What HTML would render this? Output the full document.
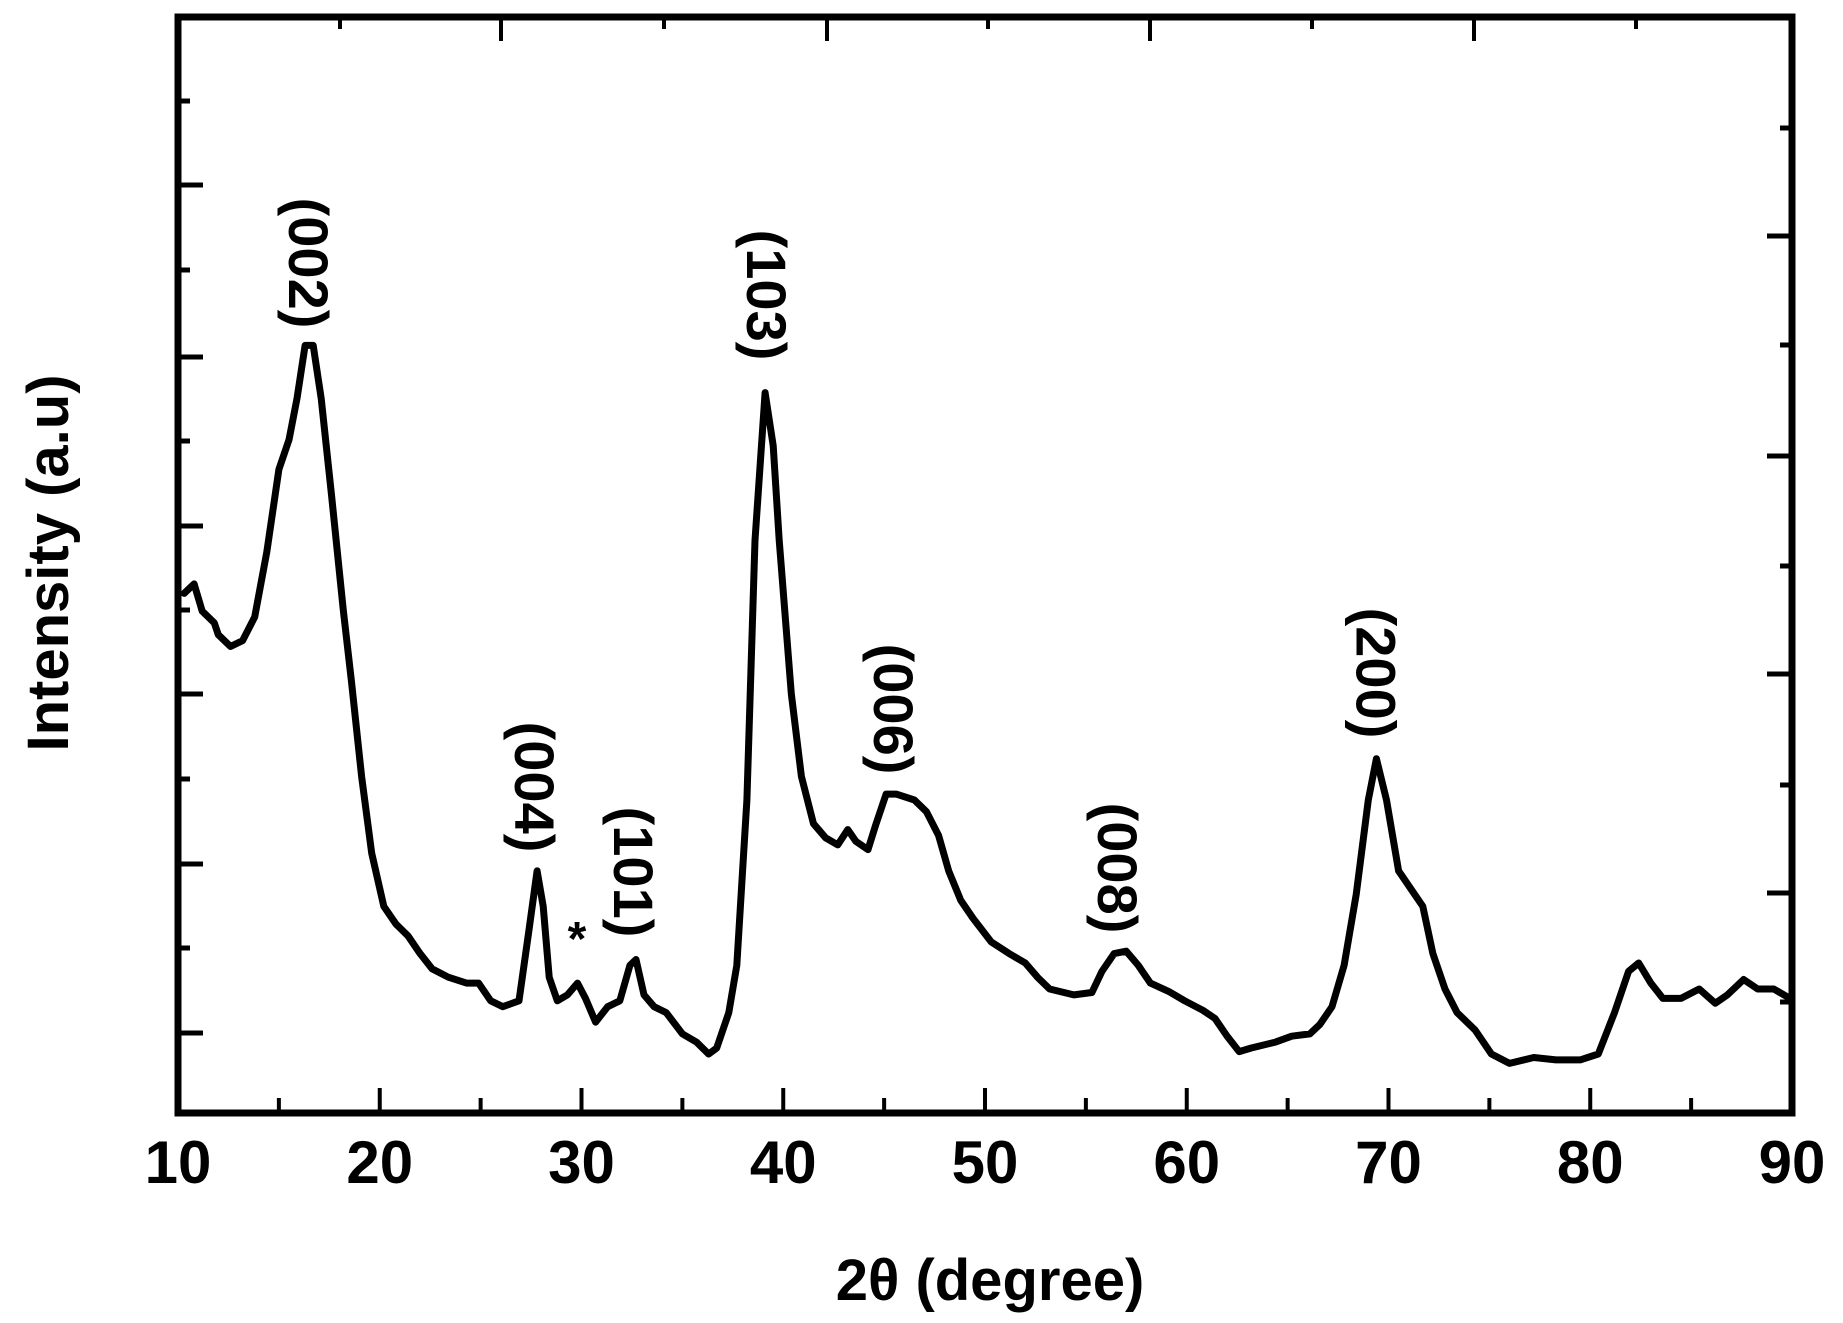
<!DOCTYPE html>
<html><head><meta charset="utf-8"><style>
html,body{margin:0;padding:0;background:#fff;}
svg{display:block;font-family:"Liberation Sans",Arial,sans-serif;font-weight:bold;}
</style></head><body>
<svg id="chart" width="1843" height="1323" viewBox="0 0 1843 1323" xmlns="http://www.w3.org/2000/svg">
<g id="axes"></g>
<path id="curve" fill="none" stroke="#000" stroke-width="7" stroke-linejoin="round" stroke-linecap="round"/>
<g id="labels"></g>
<text x="990" y="1300" font-size="58" text-anchor="middle">2θ (degree)</text>
<text transform="translate(68,563) rotate(-90)" font-size="58" text-anchor="middle">Intensity (a.u)</text>
</svg>
<script>
const twoTheta=[10.3,10.8,11.2,11.8,12.0,12.6,13.2,13.8,14.4,15.0,15.5,15.9,16.3,16.7,17.1,17.6,18.2,18.6,19.1,19.6,20.2,20.8,21.4,22.0,22.6,23.4,24.3,24.9,25.5,26.1,26.9,27.4,27.8,28.1,28.4,28.8,29.3,29.8,30.2,30.7,31.3,31.9,32.4,32.7,33.1,33.6,34.2,35.0,35.7,36.3,36.7,37.3,37.7,38.2,38.6,39.1,39.5,39.8,40.4,40.9,41.5,42.1,42.7,43.2,43.6,44.2,44.6,45.1,45.6,46.5,47.1,47.7,48.2,48.8,49.4,50.3,51.2,52.0,52.6,53.2,54.4,55.3,55.8,56.4,57.0,57.6,58.2,59.1,59.9,60.8,61.4,62.0,62.6,63.2,64.4,65.2,66.1,66.6,67.2,67.8,68.4,69.0,69.4,69.9,70.5,71.1,71.7,72.2,72.8,73.4,74.3,75.1,76.0,77.2,78.3,79.5,80.4,81.2,81.9,82.4,83.0,83.6,84.5,85.4,86.2,86.8,87.6,88.3,89.1,89.9];
const intensity=[440,448,425,415,405,395,400,420,475,545,570,605,650,650,605,525,425,365,285,220,175,160,150,135,122,115,110,110,95,90,95,155,205,175,115,95,100,110,97,77,90,95,125,130,100,90,85,67,60,50,55,85,125,265,485,610,565,485,355,285,245,233,227,240,230,223,245,270,270,265,255,235,205,180,165,145,135,127,115,105,100,102,120,135,137,125,110,103,95,87,80,65,52,55,60,65,67,75,90,125,185,265,300,265,205,190,175,135,105,85,70,50,42,47,45,45,50,85,120,127,110,97,97,105,93,100,113,105,105,97];
const xTicksMajor=[10,20,30,40,50,60,70,80,90];
const xTickLabels=["10","20","30","40","50","60","70","80","90"];
const peakLabels=["(002)","(004)","(101)","(103)","(006)","(008)","(200)"];
const peakAngles=[16.5,27.7,32.6,39.2,45.5,56.6,69.4];

const L=178,R=1792,T=17,B=1113;
const X=v=>L+(v-10)*(R-L)/80;
const Y=v=>B-v*1.181;
const NS="http://www.w3.org/2000/svg";
const axes=document.getElementById('axes');
function line(x1,y1,x2,y2,w,name){const e=document.createElementNS(NS,'line');
e.setAttribute('x1',x1);e.setAttribute('y1',y1);e.setAttribute('x2',x2);e.setAttribute('y2',y2);
e.setAttribute('stroke','#000');e.setAttribute('stroke-width',w);


axes.appendChild(e);return e;}
function text(parent,x,y,s,size,anchor,name,transform){const t=document.createElementNS(NS,'text');
t.setAttribute('x',x);t.setAttribute('y',y);t.setAttribute('font-size',size);t.setAttribute('text-anchor',anchor);
if(transform)t.setAttribute('transform',transform);t.textContent=s;


parent.appendChild(t);return t;}
// frame
const fr=document.createElementNS(NS,'rect');
fr.setAttribute('x',L);fr.setAttribute('y',T);fr.setAttribute('width',R-L);fr.setAttribute('height',B-T);
fr.setAttribute('fill','none');fr.setAttribute('stroke','#000');fr.setAttribute('stroke-width',7);


axes.appendChild(fr);
// bottom ticks
for(let v=15;v<90;v+=10){line(X(v),B,X(v),B-15,4,'x-minor-tick');}
xTicksMajor.forEach((v,i)=>{if(v>10&&v<90)line(X(v),B,X(v),B-25,4,'x-major-tick');
text(axes,X(v),1183,xTickLabels[i],60,'middle','x-tick-label');});
// top ticks
[340,501,664,827,988,1150,1312,1474,1636].forEach((x,i)=>line(x,T,x,T+(i%2?24:12),4,'top-tick'));
// left ticks
[185,357,526,694,864,1033].forEach(y=>line(L,y,L+25,y,5,'y-major-tick'));
[101,270,441,610,779,948].forEach(y=>line(L,y,L+12,y,5,'y-minor-tick'));
// right ticks
[128,236,345,456,566,674,785,893,1002].forEach((y,i)=>line(R,y,R-(i%2?25:12),y,5,'right-tick'));
// curve
document.getElementById('curve').setAttribute('d',twoTheta.map((t,i)=>(i?'L':'M')+X(t).toFixed(1)+' '+Y(intensity[i]).toFixed(1)).join(' '));
// peak labels
const lg=document.getElementById('labels');
const labelTop=[198,722,807,230,644,803,608];
peakLabels.forEach((s,i)=>{const x=X(peakAngles[i]);const y=labelTop[i]+65;
text(lg,0,0,s,56,'middle','peak-label','translate('+(x-20)+','+y+') rotate(90)');});
text(lg,577,955,'*',48,'middle','impurity-marker');
</script>
</body></html>
